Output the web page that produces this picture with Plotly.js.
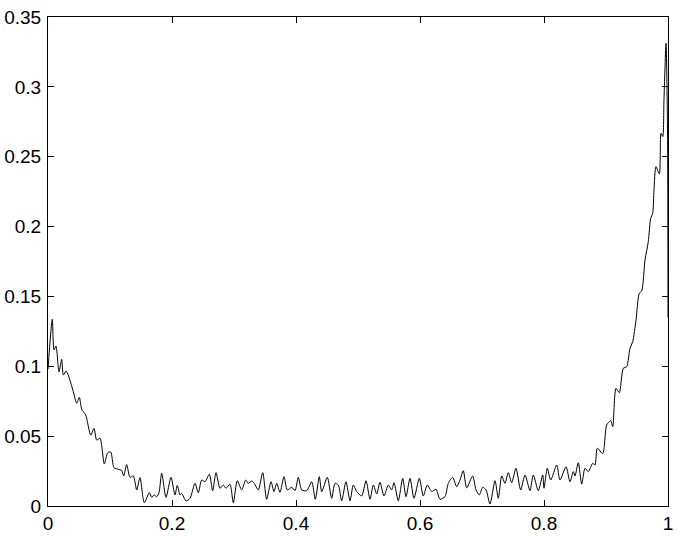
<!DOCTYPE html>
<html>
<head>
<meta charset="utf-8">
<script src="https://cdn.plot.ly/plotly-3.0.1.min.js"></script>
<style>html,body{margin:0;padding:0;background:#fff;}#chart{width:681px;height:536px;}</style>
</head>
<body>
<div id="chart"></div>
<script>
const xValues = [
0.0000,0.0069,0.0097,0.0129,0.0177,0.0221,0.0247,0.0290,0.0327,0.0408,
0.0463,0.0505,0.0544,0.0608,0.0689,0.0742,0.0785,0.0839,0.0908,0.0963,
0.1011,0.1065,0.1134,0.1189,0.1221,0.1269,0.1323,0.1376,0.1431,0.1484,
0.1553,0.1634,0.1673,0.1710,0.1753,0.1790,0.1834,0.1903,0.1984,0.2048,
0.2085,0.2129,0.2156,0.2226,0.2290,0.2371,0.2424,0.2479,0.2532,0.2602,
0.2656,0.2710,0.2774,0.2827,0.2871,0.2935,0.2989,0.3053,0.3124,0.3189,
0.3231,0.3285,0.3327,0.3392,0.3463,0.3527,0.3597,0.3645,0.3689,0.3742,
0.3806,0.3860,0.3931,0.3984,0.4037,0.4092,0.4173,0.4253,0.4311,0.4376,
0.4415,0.4505,0.4576,0.4629,0.4682,0.4737,0.4806,0.4871,0.4924,0.4979,
0.5060,0.5129,0.5194,0.5247,0.5302,0.5355,0.5419,0.5489,0.5544,0.5581,
0.5650,0.5721,0.5774,0.5839,0.5903,0.5989,0.6053,0.6118,0.6189,0.6258,
0.6323,0.6403,0.6456,0.6527,0.6592,0.6645,0.6698,0.6753,0.6850,0.6903,
0.6956,0.7011,0.7065,0.7129,0.7210,0.7263,0.7318,0.7371,0.7424,0.7479,
0.7548,0.7624,0.7694,0.7774,0.7827,0.7908,0.7979,0.8000,0.8053,0.8108,
0.8205,0.8258,0.8355,0.8419,0.8473,0.8500,0.8553,0.8608,0.8661,0.8715,
0.8785,0.8823,0.8860,0.8947,0.9011,0.9076,0.9108,0.9161,0.9215,0.9279,
0.9334,0.9387,0.9431,0.9484,0.9537,0.9576,0.9629,0.9682,0.9721,0.9753,
0.9774,0.9806,0.9860,0.9887,0.9915,0.9935,0.9968,0.9992,1.0000
];
const yValues = [
0.0980,0.1336,0.1117,0.1145,0.0960,0.1050,0.0937,0.0966,0.0937,0.0818,
0.0735,0.0778,0.0692,0.0651,0.0508,0.0556,0.0472,0.0485,0.0301,0.0382,
0.0387,0.0274,0.0263,0.0253,0.0215,0.0296,0.0205,0.0215,0.0115,0.0203,
0.0024,0.0095,0.0062,0.0079,0.0067,0.0095,0.0234,0.0062,0.0205,0.0079,
0.0148,0.0079,0.0091,0.0036,0.0055,0.0162,0.0095,0.0186,0.0174,0.0227,
0.0110,0.0239,0.0127,0.0150,0.0127,0.0155,0.0024,0.0181,0.0115,0.0186,
0.0162,0.0179,0.0162,0.0115,0.0239,0.0048,0.0174,0.0103,0.0162,0.0098,
0.0210,0.0115,0.0134,0.0110,0.0205,0.0115,0.0110,0.0174,0.0048,0.0210,
0.0103,0.0205,0.0055,0.0162,0.0150,0.0038,0.0174,0.0038,0.0150,0.0103,
0.0072,0.0181,0.0048,0.0150,0.0086,0.0170,0.0072,0.0150,0.0115,0.0167,
0.0038,0.0198,0.0067,0.0198,0.0055,0.0198,0.0072,0.0150,0.0103,0.0120,
0.0048,0.0067,0.0162,0.0205,0.0138,0.0186,0.0253,0.0130,0.0215,0.0115,
0.0079,0.0134,0.0115,0.0014,0.0181,0.0055,0.0215,0.0162,0.0239,0.0167,
0.0270,0.0115,0.0222,0.0110,0.0222,0.0110,0.0222,0.0127,0.0270,0.0186,
0.0293,0.0186,0.0281,0.0174,0.0246,0.0215,0.0310,0.0157,0.0270,0.0246,
0.0306,0.0293,0.0413,0.0375,0.0580,0.0611,0.0568,0.0842,0.0811,0.0986,
0.0997,0.1129,0.1176,0.1331,0.1523,0.1539,0.1761,0.1892,0.2059,0.2095,
0.2262,0.2429,0.2377,0.2668,0.2644,0.2906,0.3312,0.2700,0.1350
];
const xTickVals = [0, 0.2, 0.4, 0.6, 0.8, 1];
const xTickText = ['0', '0.2', '0.4', '0.6', '0.8', '1'];
const yTickVals = [0, 0.05, 0.1, 0.15, 0.2, 0.25, 0.3, 0.35];
const yTickText = ['0', '0.05', '0.1', '0.15', '0.2', '0.25', '0.3', '0.35'];

const trace = {
  x: xValues, y: yValues, type: 'scatter', mode: 'lines',
  line: {color: '#000', width: 1, shape: 'spline', smoothing: 0.7}, hoverinfo: 'none'
};
const axisCommon = {
  showgrid: false, zeroline: false, showline: true, linecolor: '#000', linewidth: 1,
  mirror: 'ticks', ticks: 'inside', ticklen: 6, tickwidth: 1, tickcolor: '#000',
  tickfont: {family: 'Liberation Sans, Arial, sans-serif', size: 19, color: '#000'}
};
const layout = {
  width: 681, height: 536,
  margin: {l: 48, r: 13, t: 17, b: 30, pad: 0},
  paper_bgcolor: '#fff', plot_bgcolor: '#fff',
  showlegend: false,
  xaxis: Object.assign({}, axisCommon, {range: [0, 1], tickmode: 'array', tickvals: xTickVals, ticktext: xTickText}),
  yaxis: Object.assign({}, axisCommon, {range: [0, 0.35], tickmode: 'array', tickvals: yTickVals, ticktext: yTickText, ticklabelstandoff: 2})
};
Plotly.newPlot('chart', [trace], layout, {displayModeBar: false, staticPlot: true});
</script>
</body>
</html>
